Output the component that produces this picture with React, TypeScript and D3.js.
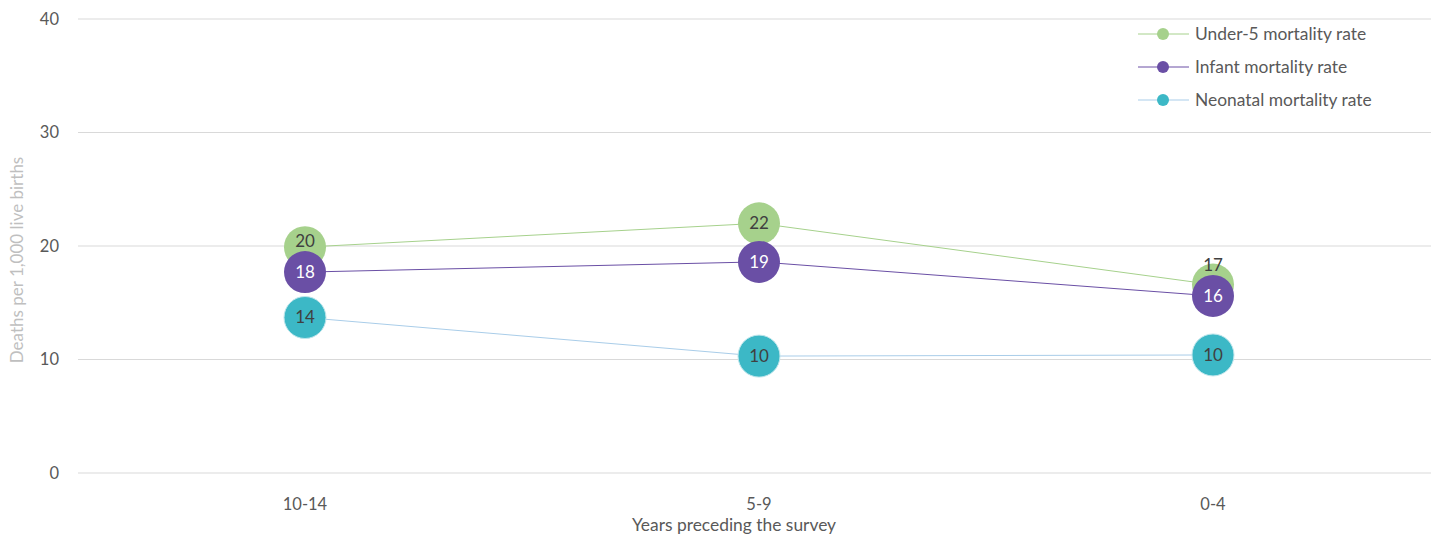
import React from "react";
import * as d3 from "d3";

const categories = ["10-14", "5-9", "0-4"];
const under5 = [19.9, 22.0, 16.6];
const infant = [17.7, 18.6, 15.6];
const neonatal = [13.7, 10.3, 10.4];
const under5Labels = ["20", "22", "17"];
const infantLabels = ["18", "19", "16"];
const neonatalLabels = ["14", "10", "10"];
const yTicks = [0, 10, 20, 30, 40];
const seriesNames = ["Under-5 mortality rate", "Infant mortality rate", "Neonatal mortality rate"];

const W = 1432;
const H = 535;
const FONT = "Lato, 'Open Sans', sans-serif";

export default function App() {
  const y = d3.scaleLinear().domain([0, 40]).range([473, 19]);
  const x = d3.scalePoint<string>().domain(categories).range([78, 1440]).padding(0.5);
  const R = 21;

  const series = [
    { name: seriesNames[0], values: under5, labels: under5Labels, fill: "#a6d18c", line: "#a6d18c", text: "#404040" },
    { name: seriesNames[1], values: infant, labels: infantLabels, fill: "#6a4fa5", line: "#6a4fa5", text: "#ffffff" },
    { name: seriesNames[2], values: neonatal, labels: neonatalLabels, fill: "#3cb8c6", line: "#a9cde9", text: "#404040" },
  ];

  const lineGen = d3
    .line<number>()
    .x((_, i) => x(categories[i]) as number)
    .y((d) => y(d));

  const labelY = (si: number, i: number) => {
    const cy = y(series[si].values[i]);
    if (si === 0) {
      const infCy = y(infant[i]);
      return Math.min(cy, infCy - R - 10);
    }
    return cy;
  };

  return (
    <div style={{ position: "fixed", left: 0, top: 0 }}>
      <svg width={W} height={H} style={{ display: "block", fontFamily: FONT }}>
        <rect width={W} height={H} fill="#ffffff" />
        {yTicks.map((t) => (
          <g key={t}>
            <line x1={78} x2={1431} y1={y(t)} y2={y(t)} stroke="#d9d9d9" strokeWidth={1} />
            <text x={59} y={y(t)} dy="0.35em" textAnchor="end" fontSize={16.5} fill="#595959">
              {t}
            </text>
          </g>
        ))}
        {categories.map((c) => (
          <text key={c} x={x(c)} y={504} dy="0.35em" textAnchor="middle" fontSize={16.5} fill="#595959">
            {c}
          </text>
        ))}
        <text x={x(categories[1])! - 25} y={525} dy="0.35em" textAnchor="middle" fontSize={17.4} fill="#595959">
          Years preceding the survey
        </text>
        <text
          transform={`translate(17,260) rotate(-90)`}
          textAnchor="middle"
          dy="0.35em"
          fontSize={17}
          fill="#bfbfbf"
        >
          Deaths per 1,000 live births
        </text>

        {series.map((s) => (
          <path key={s.name + "l"} d={lineGen(s.values) || ""} fill="none" stroke={s.line} strokeWidth={1} />
        ))}
        {series.map((s, si) => (
          <g key={s.name + "c"}>
            {s.values.map((v, i) => (
              <circle
                key={i}
                cx={x(categories[i])}
                cy={y(v)}
                r={R}
                fill={s.fill}
                stroke={si === 2 ? "#bfe6ec" : "none"}
                strokeWidth={si === 2 ? 1 : 0}
              />
            ))}
          </g>
        ))}
        {series.map((s, si) => (
          <g key={s.name + "t"}>
            {s.values.map((v, i) => (
              <text
                key={i}
                x={x(categories[i])}
                y={labelY(si, i)}
                dy="0.35em"
                textAnchor="middle"
                fontSize={17}
                fill={s.text}
              >
                {s.labels[i]}
              </text>
            ))}
          </g>
        ))}

        {series.map((s, si) => {
          const ly = 34 + si * 33;
          return (
            <g key={s.name + "leg"}>
              <line x1={1138} x2={1189} y1={ly} y2={ly} stroke={s.line} strokeWidth={1} />
              <circle cx={1163} cy={ly} r={6} fill={s.fill} />
              <text x={1195} y={ly} dy="0.35em" fontSize={17.4} fill="#595959">
                {s.name}
              </text>
            </g>
          );
        })}
      </svg>
    </div>
  );
}
